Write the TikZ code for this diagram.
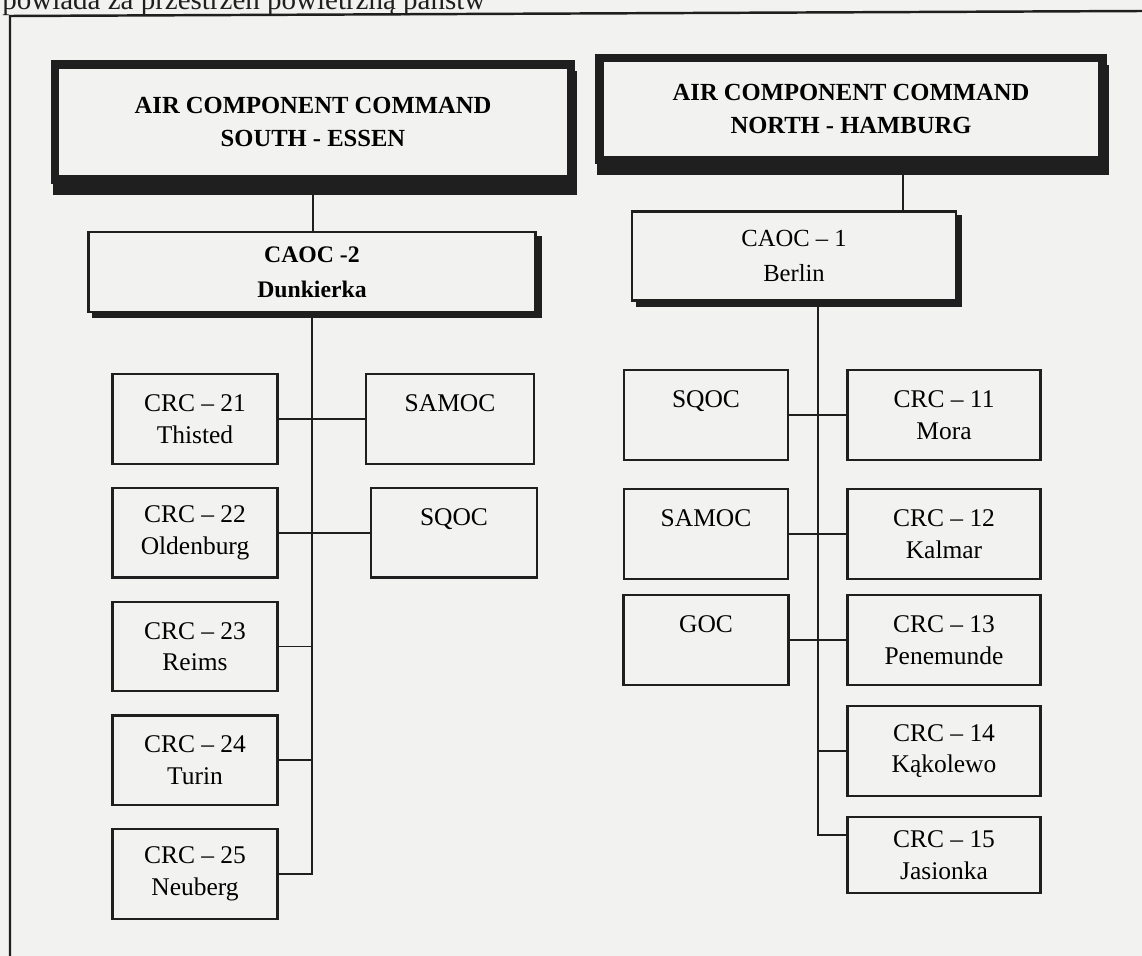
\documentclass[tikz,border=0pt]{standalone}
\usepackage{fontspec}
\setmainfont{Liberation Serif}
\usepackage{tikz}
\usetikzlibrary{positioning,shadows}
\definecolor{Paper}{HTML}{F2F2F0}
\definecolor{Ink}{HTML}{1F1F1F}

\begin{document}
\begin{tikzpicture}[
    x=0.02cm, y=-0.02cm,
    node distance=0.44cm,
    % thick command boxes with heavy offset shadow
    accbox/.style={rectangle, draw=Ink, line width=5pt, fill=Paper, align=center, inner sep=0pt,
        font=\fontsize{14}{19}\selectfont\bfseries,
        copy shadow={shadow xshift=0.04cm, shadow yshift=-0.22cm, draw=Ink, fill=Ink, line width=5pt}},
    caocbox/.style={rectangle, draw=Ink, line width=1.6pt, fill=Paper, align=center, inner sep=0pt,
        font=\fontsize{14}{19.5}\selectfont,
        copy shadow={shadow xshift=0.1cm, shadow yshift=-0.1cm, draw=Ink, fill=Ink, line width=1.6pt}},
    crcbox/.style={rectangle, draw=Ink, line width=1.3pt, fill=Paper, align=center, inner sep=0pt,
        minimum height=1.79cm, font=\fontsize{14.5}{18}\selectfont},
    leftcrc/.style={crcbox, minimum width=3.3cm},
    rightcrc/.style={crcbox, minimum width=3.86cm},
    link/.style={draw=Ink, line width=1.1pt}
]
\fill[Paper] (0,0) rectangle (1142,956);
\useasboundingbox (0,0) rectangle (1142,956);

% page frame and cut-off line of text above it
\draw[Ink, line width=1.4pt] (10,956) -- (10,16) -- (1142,11);
\node[anchor=base west, inner sep=0pt, text=Ink, font=\fontsize{16.5}{18}\selectfont] (headline) at (2,10) {powiada za przestrzeń powietrzną państw};

% commands
\node[accbox, minimum width=10.32cm, minimum height=2.3cm] (accS) at (313,122) {AIR COMPONENT COMMAND\\SOUTH - ESSEN};
\node[accbox, minimum width=10.06cm, minimum height=2.04cm] (accN) at (851,109) {AIR COMPONENT COMMAND\\NORTH - HAMBURG};

\node[caocbox, font=\fontsize{13.5}{20}\selectfont\bfseries, minimum width=8.94cm, minimum height=1.6cm] (caoc2) at (312,272) {CAOC -2\\Dunkierka};
\node[caocbox, minimum width=6.48cm, minimum height=1.78cm] (caoc1) at (794,256) {CAOC -- 1\\Berlin};

% south column
\node[leftcrc] (crc21) at (195,419) {CRC -- 21\\Thisted};
\node[leftcrc, below=of crc21] (crc22) {CRC -- 22\\Oldenburg};
\node[leftcrc, below=of crc22] (crc23) {CRC -- 23\\Reims};
\node[leftcrc, below=of crc23] (crc24) {CRC -- 24\\Turin};
\node[leftcrc, below=of crc24] (crc25) {CRC -- 25\\Neuberg};

\node[crcbox, minimum width=3.36cm] (samocL) at (450,419) {SAMOC\\\mbox{}};
\node[crcbox, minimum width=3.32cm, below=of samocL, xshift=0.08cm] (sqocL) {SQOC\\\mbox{}};

% north column
\node[rightcrc] (crc11) at (944,415) {CRC -- 11\\Mora};
\node[rightcrc] (crc12) at (944,534) {CRC -- 12\\Kalmar};
\node[rightcrc] (crc13) at (944,640) {CRC -- 13\\Penemunde};
\node[rightcrc] (crc14) at (944,751) {CRC -- 14\\Kąkolewo};
\node[rightcrc, minimum height=1.52cm] (crc15) at (944,855) {CRC -- 15\\Jasionka};

\node[crcbox, minimum width=3.28cm] (sqocR) at (706,415) {SQOC\\\mbox{}};
\node[crcbox, minimum width=3.28cm] (samocR) at (706,534) {SAMOC\\\mbox{}};
\node[crcbox, minimum width=3.3cm] (goc) at (706,640) {GOC\\\mbox{}};

% south links
\draw[link] (accS.south) -- (accS.south |- caoc2.north);
\draw[link] (caoc2.south) |- (crc25.east);
\draw[link] (crc21.east) -- (samocL.west);
\draw[link] (crc22.east) -- (sqocL.west);
\draw[link] (crc23.east) -- (crc23.east -| caoc2.south);
\draw[link] (crc24.east) -- (crc24.east -| caoc2.south);

% north links
\coordinate (nDrop) at ([xshift=1.04cm]accN.south);
\draw[link] (nDrop) -- (nDrop |- caoc1.north);
\coordinate (nTrunk) at ([xshift=0.48cm]caoc1.south);
\draw[link] (nTrunk) |- ([yshift=0.4cm]crc15.west);
\draw[link] (sqocR.east) -- (crc11.west);
\draw[link] (samocR.east) -- (crc12.west);
\draw[link] (goc.east) -- (crc13.west);
\draw[link] (crc14.west) -- (crc14.west -| nTrunk);

\end{tikzpicture}
\end{document}
